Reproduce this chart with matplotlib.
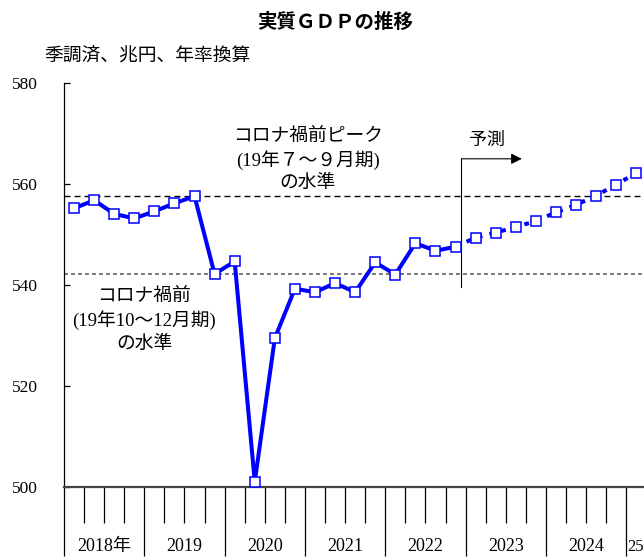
import matplotlib
matplotlib.use("Agg")
import matplotlib.pyplot as plt
import matplotlib.transforms as mtrans

plt.rcParams['font.family'] = ['Liberation Serif', 'Noto Sans CJK JP']

# 実績（2018年1-3月期〜2022年10-12月期）、兆円
jisseki = [555.2, 556.8, 554.1, 553.2, 554.6, 556.2, 557.6, 542.2,
           544.7, 501.1, 529.5, 539.3, 538.6, 540.4, 538.6, 544.5,
           542.1, 548.3, 546.8, 547.6]
# 予測（2023年1-3月期〜2025年1-3月期）
yosoku = [549.4, 550.4, 551.5, 552.7, 554.4, 555.9, 557.7, 559.9, 562.2]

peak_19q3 = 557.6   # コロナ禍前ピーク
mae_19q4 = 542.2    # コロナ禍前
nen_labels = ["2018年", "2019", "2020", "2021", "2022", "2023", "2024", "25"]
y_ticks = [500, 520, 540, 560, 580]

n_all = len(jisseki) + len(yosoku)
x_j = [i + 0.5 for i in range(len(jisseki))]
x_y = [len(jisseki) - 0.5 + i for i in range(len(yosoku) + 1)]
v_y = [jisseki[-1]] + yosoku

fig = plt.figure(figsize=(6.44, 5.57), dpi=100)
ax = fig.add_axes([64 / 644, 69.7 / 557, 582.3 / 644, 404.3 / 557])
ax.set_xlim(0, 29)
ax.set_ylim(500, 580)

blue = "#0000ff"
ax.axhline(peak_19q3, color="black", lw=1.0, ls=(0, (4.3, 2.9)), zorder=1)
ax.axhline(mae_19q4, color="#777777", lw=1.4, ls=(0, (2.0, 1.6)), zorder=1)

ax.plot(x_j, jisseki, color=blue, lw=2.9, zorder=3, solid_joinstyle="miter")
ax.plot(x_y, v_y, color=blue, lw=2.9, ls=(0, (1.2, 1.8)), zorder=3)
ax.plot(x_j + x_y[1:], jisseki + yosoku, ls="none", marker="s", ms=6.8,
        mfc="white", mec=blue, mew=1.1, zorder=4, clip_on=False)

# 予測の矢印
x_f = 19.79
ax.plot([x_f, x_f], [539.6, 565.0], color="black", lw=0.8, zorder=2)
ax.annotate("", xy=(22.8, 565.0), xytext=(x_f, 565.0),
            arrowprops=dict(arrowstyle="-|>", color="black", lw=0.8,
                            mutation_scale=16, shrinkA=0, shrinkB=0))
ax.text(21.07, 568.7, "予測", ha="center", va="center", fontsize=13)

# 注記
for t, yy in zip(["コロナ禍前ピーク", "(19年７～９月期)", "の水準"],
                 [569.5, 564.8, 560.2]):
    ax.text(12.15, yy, t, ha="center", va="center", fontsize=13.5)
for t, yy in zip(["コロナ禍前", "(19年10～12月期)", "の水準"],
                 [537.8, 533.0, 528.3]):
    ax.text(4.0, yy, t, ha="center", va="center", fontsize=13.5)

# 軸
for s in ["top", "right"]:
    ax.spines[s].set_visible(False)
ax.spines["left"].set_linewidth(0.9)
ax.spines["bottom"].set_color("#444444")
ax.spines["bottom"].set_linewidth(1.6)

ax.set_xticks(range(0, n_all, 4))
ax.set_xticks(range(n_all + 1), minor=True)
ax.tick_params(axis="x", which="major", direction="out", length=50,
               width=0.9, labelbottom=False)
ax.tick_params(axis="x", which="minor", direction="out", length=26,
               width=0.9)
ax.set_yticks(y_ticks)
ax.tick_params(axis="y", direction="in", length=4, width=0.9, pad=18.7,
               labelsize=12.5)

trans = mtrans.blended_transform_factory(ax.transData, ax.transAxes)
for k, lab in enumerate(nen_labels):
    if lab == "25":
        ax.text(4 * k + 0.05, -0.147, lab, transform=trans, ha="left",
                va="center", fontsize=12, clip_on=False)
    else:
        ax.text(4 * k + 2, -0.147, lab, transform=trans, ha="center",
                va="center", fontsize=13, clip_on=False)

fig.text(335 / 644, 1 - 22 / 557, "実質ＧＤＰの推移", ha="center", va="center",
         fontsize=14, fontweight="bold", family=["Noto Sans CJK JP"])
fig.text(44 / 644, 1 - 57 / 557, "季調済、兆円、年率換算", ha="left",
         va="center", fontsize=13.5)

fig.savefig("out.png", dpi=100)
